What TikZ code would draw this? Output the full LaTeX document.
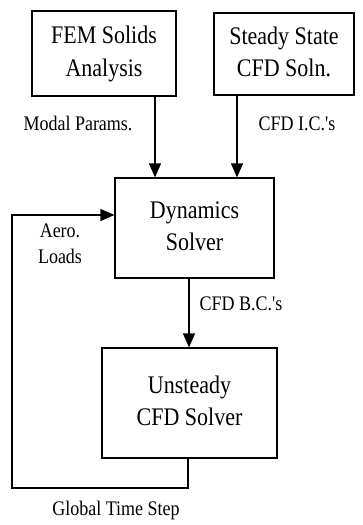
\documentclass[tikz,border=0pt]{standalone}
\usepackage{fontspec}
\usepackage{graphicx}
\setmainfont{Liberation Serif}
\usetikzlibrary{arrows.meta}
\newcommand{\tallt}[1]{\scalebox{1}[1.15]{\begin{tabular}{@{}c@{}}#1\end{tabular}}}
\begin{document}
\begin{tikzpicture}[x=1pt,y=-1pt,
  blockbox/.style={draw,line width=1.2pt,align=center,inner sep=0pt,
    font=\fontsize{22}{28}\selectfont},
  lbl/.style={align=center,inner sep=0pt,font=\fontsize{18}{23}\selectfont},
  flow/.style={line width=1.3pt,-{Triangle[length=14pt,width=12pt]}}]
\useasboundingbox (0,0) rectangle (363,525);
\node[blockbox,minimum width=144pt,minimum height=85pt] (fem) at (104,53.5) {\tallt{FEM Solids\\Analysis}};
\node[blockbox,minimum width=140pt,minimum height=82pt] (ss) at (284,54) {\tallt{Steady State\\CFD Soln.}};
\node[blockbox,minimum width=159pt,minimum height=100pt] (dyn) at (194.5,228) {\tallt{Dynamics\\Solver}};
\node[blockbox,minimum width=175pt,minimum height=110pt] (uns) at (189.5,403) {\tallt{Unsteady\\CFD Solver}};
\coordinate (c1) at (188,488);
\coordinate (c2) at (12,488);
\coordinate (c3) at (12,215);
\draw[flow] (fem.south -| 155,0) -- (dyn.north -| 155,0);
\draw[flow] (ss.south -| 237,0) -- (dyn.north -| 237,0);
\draw[flow] (dyn.south -| 189,0) -- (uns.north -| 189,0);
\draw[flow] (uns.south -| c1) -- (c1) -- (c2) -- (c3) -- (dyn.west |- c3);
\node[lbl] (mp) at (78,125) {\tallt{Modal Params.}};
\node[lbl] (ic) at (297,125) {\tallt{CFD I.C.\textquotesingle s}};
\node[lbl] (aero) at (60,245) {\tallt{Aero.\\Loads}};
\node[lbl] (bc) at (241,305) {\tallt{CFD B.C.\textquotesingle s}};
\node[lbl] (gts) at (116,510) {\tallt{Global Time Step}};
\end{tikzpicture}
\end{document}
